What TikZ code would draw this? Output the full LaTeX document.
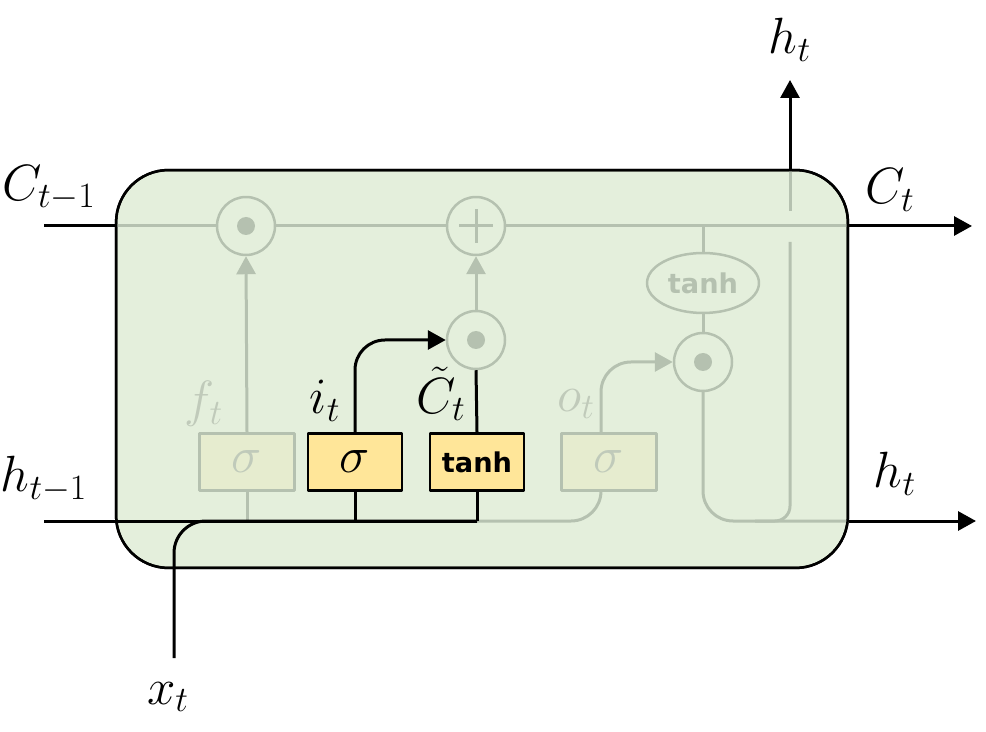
\RequirePackage{fix-cm}
\documentclass[tikz,border=0pt]{standalone}
\usepackage{fontspec}
\newfontfamily\gatefont{DejaVu Sans}
\usetikzlibrary{arrows.meta}
\usetikzlibrary{shapes.geometric}
\usetikzlibrary{positioning}
\definecolor{cellgreen}{RGB}{228,239,220}
\definecolor{fadegray}{RGB}{181,193,176}
\definecolor{fadefill}{RGB}{230,236,207}
\definecolor{fadetext}{RGB}{192,202,186}
\definecolor{gateyellow}{RGB}{255,230,153}

\begin{document}
\begin{tikzpicture}[line join=round,x=0.02cm,y=-0.02cm,
  blk/.style={black,line width=0.06cm},
  fade/.style={fadegray,line width=0.06cm},
  arrowhd/.style={-{Triangle[length=0.36cm,width=0.38cm]}},
  cellbox/.style={rectangle,rounded corners=1.05cm,line width=0.05cm,minimum width=14.64cm,minimum height=7.96cm,inner sep=0},
  gatebox/.style={rectangle,draw=black,fill=gateyellow,line width=0.05cm,minimum width=1.88cm,minimum height=1.14cm,inner sep=0},
  fadebox/.style={rectangle,draw=fadegray,fill=fadefill,line width=0.05cm,minimum width=1.9cm,minimum height=1.14cm,inner sep=0,text=fadetext},
  opcirc/.style={circle,draw=fadegray,fill=cellgreen,line width=0.05cm,minimum size=1.16cm,inner sep=0},
  lbl/.style={font=\fontsize{29}{32}\selectfont},
  gtxt/.style={font=\gatefont\bfseries\fontsize{15.5}{17}\selectfont}]
\useasboundingbox (0,0) rectangle (986,732);
% cell
\node[cellbox,fill=cellgreen,draw=black] (cell) at (482,369) {};
% ends
\coordinate (cin) at (44,226);
\coordinate (cout) at (972,226);
\coordinate (hin) at (44,521);
\coordinate (hout) at (976,521);
\coordinate (xin) at (174,658);
\coordinate (htop) at (790,80);
\coordinate (hsplit) at (755,521);
\coordinate (hlow) at (790,242);
\coordinate (hup) at (790,211);
% pointwise ops
\node[opcirc] (fmul) at (246,226) {};
\node[opcirc] (add) at (476,226) {};
\node[opcirc] (imul) at (476,340) {};
\node[opcirc] (omul) at (703,362) {};
\node[ellipse,draw=fadegray,fill=cellgreen,line width=0.05cm,minimum width=2.24cm,minimum height=1.2cm,inner sep=0,text=fadegray,gtxt] (otanh) at (703,283) {tanh};
% gates
\node[fadebox,lbl] (fgate) at (247,462) {$\sigma$};
\node[gatebox,lbl] (igate) at (355,462) {$\sigma$};
\node[gatebox,gtxt] (cgate) at (477,462) {tanh};
\node[fadebox,lbl] (ogate) at (609,462) {$\sigma$};
\coordinate (otop) at ([xshift=-0.16cm]ogate.north);
\coordinate (obot) at ([xshift=-0.16cm]ogate.south);
% faded paths
\draw[fade] (cin -| cell.west) -- (fmul) -- (add) -- (cin -| cell.east);
\draw[fade,arrowhd] (fgate.north) -- (fmul.south);
\draw[fade] (fgate.south) -- (fgate.south |- hin);
\draw[fade,arrowhd] (imul) -- (add.south);
\draw[fade,arrowhd,rounded corners=0.6cm] (otop) |- (omul.west);
\draw[fade,rounded corners=0.6cm] (cgate.south |- hin) -| (obot);
\draw[fade] (otanh |- cin) -- (otanh);
\draw[fade] (otanh) -- (omul);
\draw[fade,rounded corners=0.6cm] (omul) |- (hin -| cell.east);
\draw[fade,rounded corners=0.3cm] (hsplit) -| (hlow);
\draw[fade] (hup) -- (hup |- cell.north);
\foreach \n in {fmul,imul,omul}
\fill[fadegray] (\n) circle (0.18cm);
\draw[fade] ([xshift=-0.34cm]add.center) -- ([xshift=0.34cm]add.center);
\draw[fade] ([yshift=-0.34cm]add.center) -- ([yshift=0.34cm]add.center);
% border over the faded lines
\node[cellbox,draw=black] (cellrim) at (cell) {};
% active paths
\draw[blk] (cin) -- (cin -| cell.west);
\draw[blk,arrowhd] (cin -| cell.east) -- (cout);
\draw[blk] (hin) -- (cgate.south |- hin);
\draw[blk,rounded corners=0.64cm] (xin) |- (cgate.south |- hin);
\draw[blk] (igate.south) -- (igate.south |- hin);
\draw[blk] (cgate.south) -- (cgate.south |- hin);
\draw[blk,arrowhd,rounded corners=0.6cm] (igate.north) |- (imul.west);
\draw[blk] (cgate.north) -- (imul.south);
\draw[blk,arrowhd] (hin -| cell.east) -- (hout);
\draw[blk,arrowhd] (hup |- cell.north) -- (htop);
% labels
\node[lbl] (lcprev) at (49,188) {$C_{t-1}$};
\node[lbl] (lhprev) at (44,479) {$h_{t-1}$};
\node[lbl] (lcnext) at (890,190) {$C_t$};
\node[lbl] (lhnext) at (895,474) {$h_t$};
\node[lbl] (lhtop) at (790,40) {$h_t$};
\node[lbl] (lx) at (168,697) {$x_t$};
\node[lbl,text=fadetext] (lf) at (204,404) {$f_t$};
\node[lbl] (li) at (325,401) {$i_t$};
\node[lbl] (lct) at (441,394) {$\tilde{C}_t$};
\node[lbl,text=fadetext] (lo) at (576,404) {$o_t$};
\end{tikzpicture}
\end{document}
